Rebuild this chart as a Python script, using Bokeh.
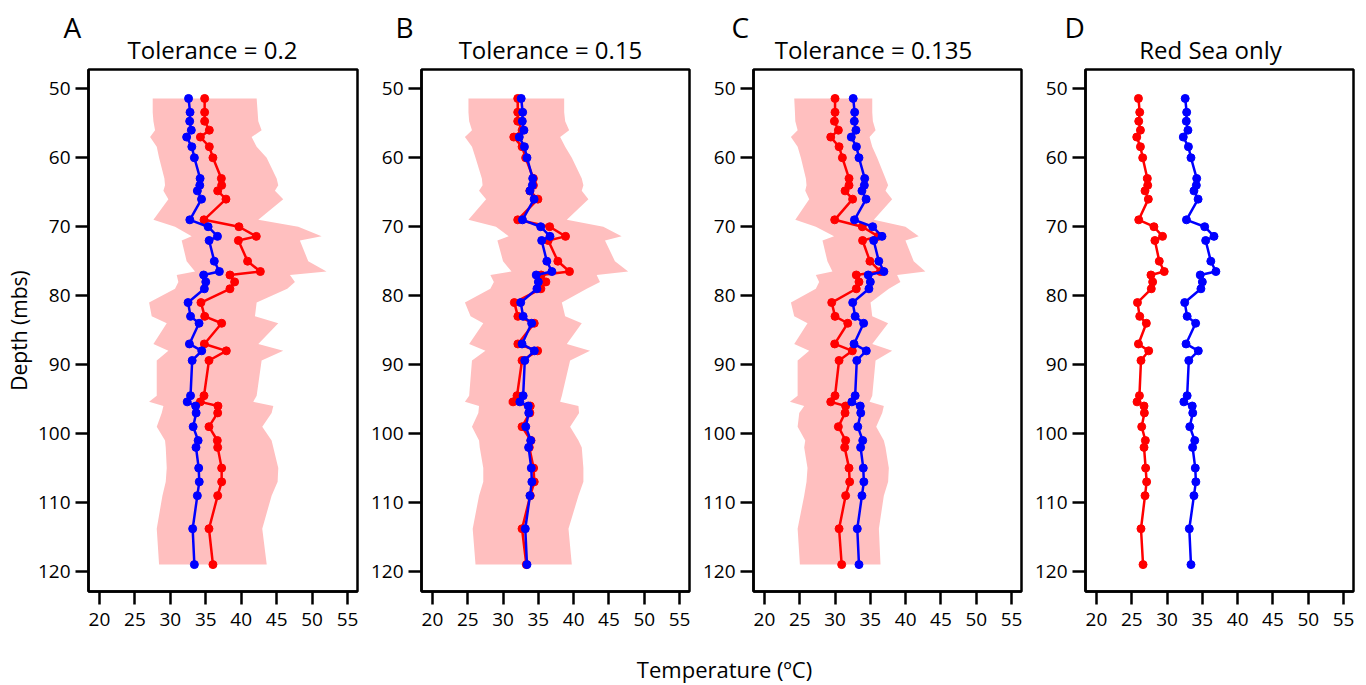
from bokeh.plotting import figure
from bokeh.models import Range1d, FixedTicker, Label
from bokeh.layouts import row, column
from bokeh.embed import file_html
from bokeh.resources import INLINE

# ---------------- data ----------------
depth = [51.4, 53.4, 54.7, 56.0, 57.0, 58.4, 60.0, 63.0, 64.0, 64.8, 66.0, 69.0,
         70.0, 71.4, 72.0, 75.0, 76.5, 77.0, 78.0, 79.0, 81.0, 83.0, 84.0, 87.0,
         88.0, 89.4, 94.5, 95.4, 96.0, 97.0, 99.0, 101.0, 102.0, 105.0, 107.0,
         109.0, 113.8, 119.0]

blue_temp = [32.57, 32.78, 32.73, 32.96, 32.30, 33.03, 33.39, 34.20, 34.15, 33.81,
             34.40, 32.75, 35.33, 36.65, 35.47, 36.20, 36.92, 34.70, 35.00, 34.80,
             32.50, 32.85, 34.05, 32.69, 34.43, 33.08, 32.85, 32.38, 33.57, 33.64,
             33.22, 33.92, 33.62, 34.00, 34.08, 33.81, 33.15, 33.39]

red_a = [34.84, 34.84, 34.84, 35.50, 34.24, 35.50, 36.01, 37.20, 37.24, 36.68,
         37.85, 34.75, 39.68, 42.13, 39.60, 40.90, 42.70, 38.41, 39.07, 38.41,
         34.32, 34.85, 37.24, 34.80, 37.90, 35.45, 34.75, 34.24, 36.72, 36.68,
         35.45, 36.63, 36.68, 37.24, 37.24, 36.68, 35.45, 36.01]
band_a_lo = [27.51, 27.51, 27.61, 27.84, 27.14, 28.08, 28.41, 29.16, 29.25, 29.02,
             29.72, 27.61, 30.66, 33.01, 31.60, 32.30, 33.48, 30.90, 31.13, 30.66,
             27.00, 27.37, 29.49, 27.61, 29.72, 28.08, 28.08, 27.00, 29.02, 28.78,
             28.08, 29.25, 29.35, 29.49, 29.35, 28.88, 28.08, 28.41]
band_a_hi = [42.18, 42.32, 42.41, 42.88, 41.47, 42.18, 43.59, 45.00, 45.23, 44.76,
             45.93, 42.41, 48.05, 51.34, 48.28, 49.46, 52.04, 46.88, 47.58, 46.50,
             42.18, 41.94, 45.23, 42.41, 45.93, 42.88, 42.18, 41.70, 44.53, 44.29,
             42.97, 44.29, 44.53, 45.23, 45.14, 44.29, 42.97, 43.60]

red_b = [32.08, 32.08, 32.08, 32.70, 31.52, 32.70, 33.20, 34.30, 34.30, 33.80,
         34.94, 32.08, 36.60, 38.85, 36.40, 37.76, 39.41, 35.40, 36.07, 35.36,
         31.60, 32.10, 34.42, 32.10, 34.90, 32.69, 31.98, 31.42, 33.86, 33.80,
         32.69, 33.96, 33.72, 34.33, 34.42, 33.86, 32.69, 33.30]
band_b_lo = [25.10, 25.10, 25.20, 25.60, 24.60, 25.60, 26.10, 27.00, 27.10, 26.60,
             27.60, 25.10, 29.00, 30.80, 29.20, 30.00, 31.20, 28.20, 28.70, 28.20,
             24.60, 25.40, 27.20, 25.20, 27.50, 25.60, 25.20, 24.60, 26.60, 26.50,
             25.60, 26.60, 26.70, 27.20, 27.20, 26.60, 25.70, 26.10]
band_b_hi = [38.66, 38.66, 38.80, 39.36, 38.09, 38.80, 39.74, 41.15, 41.38, 41.15,
             42.09, 39.03, 44.20, 46.79, 44.44, 45.85, 47.72, 43.26, 43.73, 41.85,
             38.33, 38.80, 41.15, 39.03, 42.32, 39.50, 38.33, 38.09, 40.68, 40.77,
             39.50, 40.68, 41.15, 41.38, 41.38, 40.68, 39.27, 39.74]

red_c = [30.00, 30.00, 29.91, 30.47, 29.39, 30.57, 31.04, 31.98, 31.98, 31.42,
         32.49, 29.95, 33.86, 36.11, 33.90, 34.94, 36.44, 33.01, 33.39, 33.01,
         29.53, 30.00, 31.80, 29.95, 32.45, 30.57, 30.00, 29.39, 31.50, 31.42,
         30.47, 31.50, 31.36, 31.98, 32.07, 31.50, 30.57, 30.94]
band_c_lo = [24.22, 24.32, 24.37, 24.70, 23.75, 24.70, 25.16, 25.87, 25.96, 25.78,
             26.34, 24.37, 27.28, 29.86, 28.22, 28.92, 29.63, 27.28, 27.75, 27.28,
             23.75, 24.22, 26.10, 24.22, 26.34, 24.70, 24.70, 23.61, 25.63, 24.93,
             24.70, 25.78, 25.63, 26.10, 25.96, 25.63, 24.70, 25.02]
band_c_hi = [35.27, 35.27, 35.36, 35.74, 34.89, 35.27, 35.97, 37.15, 37.52, 37.15,
             38.09, 35.50, 39.97, 41.85, 39.97, 41.14, 42.79, 38.79, 39.26, 37.62,
             35.03, 35.27, 37.52, 35.27, 38.09, 35.74, 35.27, 34.89, 36.91, 36.68,
             35.83, 36.91, 37.15, 37.62, 37.52, 36.91, 36.21, 36.44]

red_d = [25.95, 26.13, 25.99, 26.23, 25.71, 26.23, 26.55, 27.21, 27.26, 26.88,
         27.35, 25.99, 28.14, 29.36, 28.28, 28.90, 29.60, 27.72, 27.96, 27.77,
         25.81, 26.13, 27.07, 25.95, 27.40, 26.31, 26.09, 25.75, 26.74, 26.79,
         26.41, 26.93, 26.74, 26.97, 27.11, 26.88, 26.31, 26.60]

panel_letters = ["A", "B", "C", "D"]
panel_titles = ["Tolerance = 0.2", "Tolerance = 0.15", "Tolerance = 0.135", "Red Sea only"]
x_ticks = [20, 25, 30, 35, 40, 45, 50, 55]
y_ticks = [50, 60, 70, 80, 90, 100, 110, 120]
y_label = "Depth (mbs)"
x_label = "Temperature (\u00baC)"

# ---------------- style / layout ----------------
FONT = "Open Sans"
FRAME_W = 269
FRAME_H = 522
HEAD_H = 66          # header strip with panel letters and titles
TOP_B = 3            # border above each frame (frame top at y = 69)
BOT_B = 56
PANEL_H = TOP_B + FRAME_H + BOT_B
FOOT_H = 685 - HEAD_H - PANEL_H
LEFT_B = [88, 53, 53, 53]
RIGHT_B = 10
RED = "#ff0000"
BLUE = "#0000ff"
BAND = "#ffbfbf"

letter_x = [63, 395, 731, 1064]
title_cx = [212, 550, 873, 1210]


def make_panel(idx, red, lo, hi):
    p = figure(width=LEFT_B[idx] + FRAME_W + RIGHT_B, height=PANEL_H,
               x_range=Range1d(18.45, 56.41), y_range=Range1d(122.9, 47.2),
               output_backend="svg", toolbar_location=None,
               min_border_left=LEFT_B[idx], min_border_right=RIGHT_B,
               min_border_top=TOP_B, min_border_bottom=BOT_B)
    p.grid.visible = False
    p.outline_line_color = "black"
    p.outline_line_width = 2.5
    p.outline_line_alpha = 1.0
    for ax in (p.xaxis[0], p.yaxis[0]):
        ax.axis_line_width = 2.5
        ax.axis_line_color = "black"
        ax.major_tick_line_width = 2.5
        ax.major_tick_line_color = "black"
        ax.major_tick_out = 13
        ax.major_tick_in = 0
        ax.minor_tick_line_color = None
        ax.major_label_text_font = FONT
        ax.major_label_text_font_size = "19px"
        ax.major_label_text_color = "black"
    p.xaxis[0].ticker = FixedTicker(ticks=x_ticks)
    p.yaxis[0].ticker = FixedTicker(ticks=y_ticks)
    p.xaxis[0].major_label_standoff = 8
    p.yaxis[0].major_label_standoff = 5
    if idx == 0:
        p.yaxis[0].axis_label = y_label
        p.yaxis[0].axis_label_text_font = FONT
        p.yaxis[0].axis_label_text_font_size = "21px"
        p.yaxis[0].axis_label_text_font_style = "normal"
        p.yaxis[0].axis_label_text_color = "black"
        p.yaxis[0].axis_label_standoff = 2

    if lo is not None:
        p.harea(x1=lo, x2=hi, y=depth, fill_color=BAND, fill_alpha=1.0)
    p.line(x=red, y=depth, line_color=RED, line_width=2.5)
    p.scatter(x=red, y=depth, marker="circle", size=8, fill_color=RED, line_color=RED)
    p.line(x=blue_temp, y=depth, line_color=BLUE, line_width=2.5)
    p.scatter(x=blue_temp, y=depth, marker="circle", size=8, fill_color=BLUE, line_color=BLUE)
    return p


pa = make_panel(0, red_a, band_a_lo, band_a_hi)
pb = make_panel(1, red_b, band_b_lo, band_b_hi)
pc = make_panel(2, red_c, band_c_lo, band_c_hi)
pd = make_panel(3, red_d, None, None)

total_w = sum(LEFT_B) + 4 * (FRAME_W + RIGHT_B)


def strip(height):
    s = figure(width=total_w, height=height, x_range=Range1d(0, 1), y_range=Range1d(0, 1),
               output_backend="svg", toolbar_location=None,
               x_axis_type=None, y_axis_type=None,
               min_border_left=0, min_border_right=0, min_border_top=0, min_border_bottom=0)
    s.grid.visible = False
    s.outline_line_color = None
    return s


head = strip(HEAD_H)
for i in range(4):
    head.add_layout(Label(x=letter_x[i], y=40, x_units="screen", y_units="screen",
                          text=panel_letters[i], text_align="left", text_baseline="alphabetic",
                          text_font=FONT, text_font_size="28px", text_color="black"))
    head.add_layout(Label(x=title_cx[i], y=17, x_units="screen", y_units="screen",
                          text=panel_titles[i], text_align="center", text_baseline="alphabetic",
                          text_font=FONT, text_font_size="24px", text_color="black"))

foot = strip(FOOT_H)
foot.add_layout(Label(x=724, y=17, x_units="screen", y_units="screen",
                      text=x_label, text_align="center", text_baseline="alphabetic",
                      text_font=FONT, text_font_size="22px", text_color="black"))

layout = column(head, row(pa, pb, pc, pd, spacing=0), foot, spacing=0)
open("out.html", "w").write(file_html(layout, INLINE))
